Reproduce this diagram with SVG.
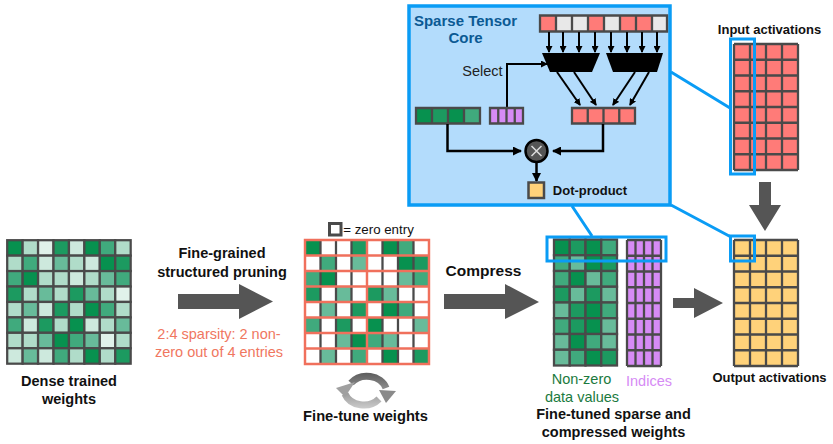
<svg xmlns="http://www.w3.org/2000/svg" width="833" height="444" viewBox="0 0 833 444">
<style>
text{font-family:"Liberation Sans",Arial,sans-serif;font-size:14.5px;fill:#111;text-anchor:middle}
.b{font-weight:bold}
.l0{fill:#07914f}.l1{fill:#1c9a60}.l2{fill:#40aa7d}.l3{fill:#68bb9a}.l4{fill:#b0dcc9}.l5{fill:#cde9dd}.l6{fill:#e0f2ea}
.w{fill:#fff}.r{fill:#ff7b78}.g{fill:#e8e8e8}.y{fill:#ffd27a}.p{fill:#d68bf5}
.cell rect{width:15.75px;height:15.75px;stroke:#4a4a4a;stroke-width:2.3}
.raw rect{width:15.75px;height:15.75px}
.line{fill:none;stroke:#4a4a4a;stroke-width:2.3}
.blue{fill:none;stroke:#0a9cf5;stroke-width:3}
.k{fill:none;stroke:#000;stroke-width:2}
.kb{fill:none;stroke:#000;stroke-width:2.5}
.big{fill:#555}
</style>
<defs>
<marker id="a" markerWidth="7" markerHeight="7" refX="6" refY="3.500" orient="auto" markerUnits="userSpaceOnUse"><path d="M0 0L7 3.500L0 7Z" fill="#000"/></marker>
<marker id="a2" markerWidth="9" markerHeight="9" refX="8" refY="4.500" orient="auto" markerUnits="userSpaceOnUse"><path d="M0 0L9 4.500L0 9Z" fill="#000"/></marker>
<linearGradient id="cyc" gradientUnits="userSpaceOnUse" x1="0" y1="372" x2="0" y2="410"><stop offset="0" stop-color="#5a5a5a"/><stop offset="1" stop-color="#d0d0d0"/></linearGradient>
</defs>

<g id="connectors">
<path class="blue" d="M671 72L730 108M671 205L731 237M572 206L592 236"/>
</g>

<g id="dense-weights">
<g class="cell" transform="translate(7.200,240.200) scale(.98)">
<g><rect class="l0" x="0"/><rect class="l4" x="15.75"/><rect class="l6" x="31.5"/><rect class="l1" x="47.25"/><rect class="l5" x="63"/><rect class="l0" x="78.75"/><rect class="l2" x="94.5"/><rect class="l4" x="110.25"/></g>
<g transform="translate(0,15.75)"><rect class="l4" x="0"/><rect class="l2" x="15.75"/><rect class="l5" x="31.5"/><rect class="l3" x="47.25"/><rect class="l4" x="63"/><rect class="l5" x="78.75"/><rect class="l0" x="94.5"/><rect class="l1" x="110.25"/></g>
<g transform="translate(0,31.5)"><rect class="l2" x="0"/><rect class="l0" x="15.75"/><rect class="l4" x="31.5"/><rect class="l4" x="47.25"/><rect class="l5" x="63"/><rect class="l4" x="78.75"/><rect class="l3" x="94.5"/><rect class="l2" x="110.25"/></g>
<g transform="translate(0,47.25)"><rect class="l1" x="0"/><rect class="l4" x="15.75"/><rect class="l3" x="31.5"/><rect class="l4" x="47.25"/><rect class="l1" x="63"/><rect class="l3" x="78.75"/><rect class="l4" x="94.5"/><rect class="l6" x="110.25"/></g>
<g transform="translate(0,63)"><rect class="l4" x="0"/><rect class="l3" x="15.75"/><rect class="l5" x="31.5"/><rect class="l1" x="47.25"/><rect class="l4" x="63"/><rect class="l0" x="78.75"/><rect class="l2" x="94.5"/><rect class="l4" x="110.25"/></g>
<g transform="translate(0,78.75)"><rect class="l2" x="0"/><rect class="l5" x="15.75"/><rect class="l1" x="31.5"/><rect class="l4" x="47.25"/><rect class="l0" x="63"/><rect class="l5" x="78.75"/><rect class="l4" x="94.5"/><rect class="l3" x="110.25"/></g>
<g transform="translate(0,94.5)"><rect class="l4" x="0"/><rect class="l4" x="15.75"/><rect class="l3" x="31.5"/><rect class="l0" x="47.25"/><rect class="l2" x="63"/><rect class="l3" x="78.75"/><rect class="l6" x="94.5"/><rect class="l4" x="110.25"/></g>
<g transform="translate(0,110.25)"><rect class="l5" x="0"/><rect class="l3" x="15.75"/><rect class="l5" x="31.5"/><rect class="l2" x="47.25"/><rect class="l4" x="63"/><rect class="l0" x="78.75"/><rect class="l4" x="94.5"/><rect class="l1" x="110.25"/></g>
</g>
<text class="b" x="69" y="386">Dense trained</text>
<text class="b" x="69" y="404">weights</text>
</g>

<g id="pruning-arrow">
<path class="big" d="M178 294H239V284L273 301.500L239 319V309H178Z"/>
<text class="b" x="222" y="258">Fine-grained</text>
<text class="b" x="222" y="277">structured pruning</text>
<text x="219" y="339" style="fill:#f0775f">2:4 sparsity: 2 non-</text>
<text x="219" y="357" style="fill:#f0775f">zero out of 4 entries</text>
</g>

<g id="pruned-weights" transform="translate(305,240) scale(.984)">
<rect class="w" width="126" height="126"/>
<g class="raw">
<rect class="l0" x="0" y="0"/><rect class="l1" x="47.25" y="0"/><rect class="l0" x="78.75" y="0"/><rect class="l2" x="94.5" y="0"/>
<rect class="l2" x="15.75" y="15.75"/><rect class="l3" x="47.25" y="15.75"/><rect class="l0" x="94.5" y="15.75"/><rect class="l1" x="110.25" y="15.75"/>
<rect class="l2" x="0" y="31.5"/><rect class="l0" x="15.75" y="31.5"/><rect class="l3" x="94.5" y="31.5"/><rect class="l2" x="110.25" y="31.5"/>
<rect class="l1" x="0" y="47.25"/><rect class="l3" x="31.5" y="47.25"/><rect class="l1" x="63" y="47.25"/><rect class="l3" x="78.75" y="47.25"/>
<rect class="l3" x="15.75" y="63"/><rect class="l1" x="47.25" y="63"/><rect class="l0" x="78.75" y="63"/><rect class="l2" x="94.5" y="63"/>
<rect class="l2" x="0" y="78.75"/><rect class="l1" x="31.5" y="78.75"/><rect class="l0" x="63" y="78.75"/><rect class="l3" x="110.25" y="78.75"/>
<rect class="l3" x="31.5" y="94.5"/><rect class="l0" x="47.25" y="94.5"/><rect class="l2" x="63" y="94.5"/><rect class="l3" x="78.75" y="94.5"/>
<rect class="l3" x="15.75" y="110.25"/><rect class="l2" x="47.25" y="110.25"/><rect class="l0" x="78.75" y="110.25"/><rect class="l1" x="110.25" y="110.25"/>
</g>
<path class="line" d="M15.750 0V126M31.500 0V126M47.250 0V126M78.750 0V126M94.500 0V126M110.250 0V126"/>
<path fill="none" stroke="#f0705c" stroke-width="2.500" d="M0 0H126V126H0ZM63 0V126M0 15.750H126M0 31.500H126M0 47.250H126M0 63H126M0 78.750H126M0 94.500H126M0 110.250H126"/>
</g>

<g id="zero-legend">
<rect x="329.500" y="223.500" width="11.500" height="11.500" fill="#fff" stroke="#4a4a4a" stroke-width="3"/>
<text x="378.500" y="234" style="font-size:13.300px">= zero entry</text>
</g>

<g id="fine-tune">
<path d="M351 383A20 17 0 0 1 386 388" fill="none" stroke="url(#cyc)" stroke-width="7"/>
<path d="M379 390L396 391L386 403Z" fill="#8a8a8a"/>
<path d="M379 399A20 17 0 0 1 345 394" fill="none" stroke="url(#cyc)" stroke-width="7"/>
<path d="M336 388L355 382L345 397Z" fill="#a0a0a0"/>
<text class="b" x="365.500" y="421" style="font-size:14.700px">Fine-tune weights</text>
</g>

<g id="compress-arrow">
<path class="big" d="M444 294H505V284L539 302L505 319V309H444Z"/>
<text class="b" x="483.500" y="276" style="font-size:15.500px">Compress</text>
</g>

<g id="nonzero-values">
<g class="cell" transform="translate(554,239.500)">
<g><rect class="l0" x="0"/><rect class="l1" x="15.75"/><rect class="l0" x="31.5"/><rect class="l2" x="47.25"/></g>
<g transform="translate(0,15.75)"><rect class="l2" x="0"/><rect class="l3" x="15.75"/><rect class="l0" x="31.5"/><rect class="l1" x="47.25"/></g>
<g transform="translate(0,31.5)"><rect class="l2" x="0"/><rect class="l0" x="15.75"/><rect class="l3" x="31.5"/><rect class="l2" x="47.25"/></g>
<g transform="translate(0,47.25)"><rect class="l1" x="0"/><rect class="l3" x="15.75"/><rect class="l1" x="31.5"/><rect class="l3" x="47.25"/></g>
<g transform="translate(0,63)"><rect class="l3" x="0"/><rect class="l1" x="15.75"/><rect class="l0" x="31.5"/><rect class="l2" x="47.25"/></g>
<g transform="translate(0,78.75)"><rect class="l2" x="0"/><rect class="l1" x="15.75"/><rect class="l0" x="31.5"/><rect class="l3" x="47.25"/></g>
<g transform="translate(0,94.5)"><rect class="l3" x="0"/><rect class="l0" x="15.75"/><rect class="l2" x="31.5"/><rect class="l3" x="47.25"/></g>
<g transform="translate(0,110.25)"><rect class="l3" x="0"/><rect class="l2" x="15.75"/><rect class="l0" x="31.5"/><rect class="l1" x="47.25"/></g>
</g>
<text x="581.500" y="384" style="fill:#1b7a3e">Non-zero</text>
<text x="582" y="402" style="fill:#1b7a3e">data values</text>
</g>

<g id="indices">
<rect class="p" x="627" y="240" width="34" height="126"/>
<path class="line" d="M627 240V366M635.500 240V366M644 240V366M652.500 240V366M661 240V366M627 240H661M627 255.750H661M627 271.500H661M627 287.250H661M627 303H661M627 318.750H661M627 334.500H661M627 350.250H661M627 366H661"/>
<text x="649" y="386" style="fill:#d68bf5">Indices</text>
</g>

<g id="sparse-label">
<text class="b" x="613.500" y="419">Fine-tuned sparse and</text>
<text class="b" x="613.500" y="437">compressed weights</text>
</g>

<path id="merge-arrow" class="big" d="M673 298H694V288L723 303L694 318V308H673Z"/>

<rect id="row-highlight" class="blue" x="547" y="237" width="119" height="24"/>

<g id="input-activations">
<rect class="r" x="734" y="44" width="64" height="126"/>
<path class="line" d="M734 44V170M750 44V170M766 44V170M782 44V170M798 44V170M734 44H798M734 59.750H798M734 75.500H798M734 91.250H798M734 107H798M734 122.750H798M734 138.500H798M734 154.250H798M734 170H798"/>
<rect class="blue" x="730.500" y="39" width="24" height="135"/>
<text class="b" x="769.500" y="34" style="font-size:13px">Input activations</text>
</g>

<path id="down-arrow" class="big" d="M759 182H771V205H781L765 231L749 205H759Z"/>

<g id="output-activations">
<rect class="y" x="734" y="240" width="64" height="126"/>
<path class="line" d="M734 240V366M750 240V366M766 240V366M782 240V366M798 240V366M734 240H798M734 255.750H798M734 271.500H798M734 287.250H798M734 303H798M734 318.750H798M734 334.500H798M734 350.250H798M734 366H798"/>
<rect class="blue" x="730.500" y="236" width="24" height="25"/>
<text class="b" x="769.500" y="382" style="font-size:13px">Output activations</text>
</g>

<g id="sparse-tensor-core">
<rect x="409" y="6" width="261" height="199" fill="#b3dcfc" stroke="#0a9cf5" stroke-width="3.500"/>
<text class="b" x="465.500" y="26" style="fill:#0b5a94;font-size:15px">Sparse Tensor</text>
<text class="b" x="465.500" y="43" style="fill:#0b5a94;font-size:15px">Core</text>

<g id="input-strip">
<rect class="r" x="540" y="15.500" width="16" height="16"/><rect class="g" x="556" y="15.500" width="16" height="16"/><rect class="g" x="572" y="15.500" width="16" height="16"/><rect class="r" x="588" y="15.500" width="16" height="16"/><rect class="g" x="604" y="15.500" width="16" height="16"/><rect class="r" x="620" y="15.500" width="16" height="16"/><rect class="r" x="636" y="15.500" width="16" height="16"/><rect class="g" x="652" y="15.500" width="15" height="16"/>
<path class="line" d="M540 15.500H667V31.500H540ZM556 15.500V31.500M572 15.500V31.500M588 15.500V31.500M604 15.500V31.500M620 15.500V31.500M636 15.500V31.500M652 15.500V31.500"/>
</g>
<g id="mux-arrows">
<path class="k" marker-end="url(#a)" d="M549 32V52"/>
<path class="k" marker-end="url(#a)" d="M563 32V52"/>
<path class="k" marker-end="url(#a)" d="M579 32V52"/>
<path class="k" marker-end="url(#a)" d="M595 32V52"/>
<path class="k" marker-end="url(#a)" d="M611 32V52"/>
<path class="k" marker-end="url(#a)" d="M627 32V52"/>
<path class="k" marker-end="url(#a)" d="M642 32V52"/>
<path class="k" marker-end="url(#a)" d="M657 32V52"/>
<path class="k" marker-end="url(#a)" d="M557 72L580 105"/>
<path class="k" marker-end="url(#a)" d="M574 72L596 105"/>
<path class="k" marker-end="url(#a)" d="M635 72L613 105"/>
<path class="k" marker-end="url(#a)" d="M649 72L630 105"/>
<path class="k" marker-end="url(#a)" d="M507 107V64H547"/>
</g>
<path id="mux-left" d="M542 53H600L592 72H550Z" fill="#000"/>
<path id="mux-right" d="M606 53H663L657 72H613Z" fill="#000"/>
<text x="482.500" y="76" style="fill:#222">Select</text>

<g id="green-strip">
<rect class="l0" x="416" y="108" width="16" height="15.500"/><rect class="l1" x="432" y="108" width="16" height="15.500"/><rect class="l0" x="448" y="108" width="16" height="15.500"/><rect class="l2" x="464" y="108" width="16" height="15.500"/>
<path class="line" d="M416 108H480V123.500H416ZM432 108V123.500M448 108V123.500M464 108V123.500"/>
</g>
<g id="index-strip">
<rect class="p" x="490" y="108" width="33" height="15.500"/>
<path class="line" d="M490 108H523V123.500H490ZM498.250 108V123.500M506.500 108V123.500M514.750 108V123.500"/>
</g>
<g id="selected-strip">
<rect class="r" x="572" y="108" width="63" height="15.500"/>
<path class="line" d="M572 108H635V123.500H572ZM587.750 108V123.500M603.500 108V123.500M619.250 108V123.500"/>
</g>
<path class="kb" marker-end="url(#a2)" d="M447.500 124V151H521"/>
<path class="kb" marker-end="url(#a2)" d="M603 124V151H553"/>
<path class="kb" marker-end="url(#a2)" d="M536.500 162V181"/>
<g id="multiply">
<circle cx="536.500" cy="151" r="11" fill="#555" stroke="#000" stroke-width="2.500"/>
<path d="M531.500 146L541.500 156M541.500 146L531.500 156" stroke="#ddd" stroke-width="1.500" fill="none"/>
</g>
<g id="dot-product">
<rect class="y" x="528.500" y="182.500" width="15.500" height="15.500" stroke="#4a4a4a" stroke-width="2.500"/>
<text class="b" x="590" y="195" style="font-size:13px">Dot-product</text>
</g>
</g>
</svg>
